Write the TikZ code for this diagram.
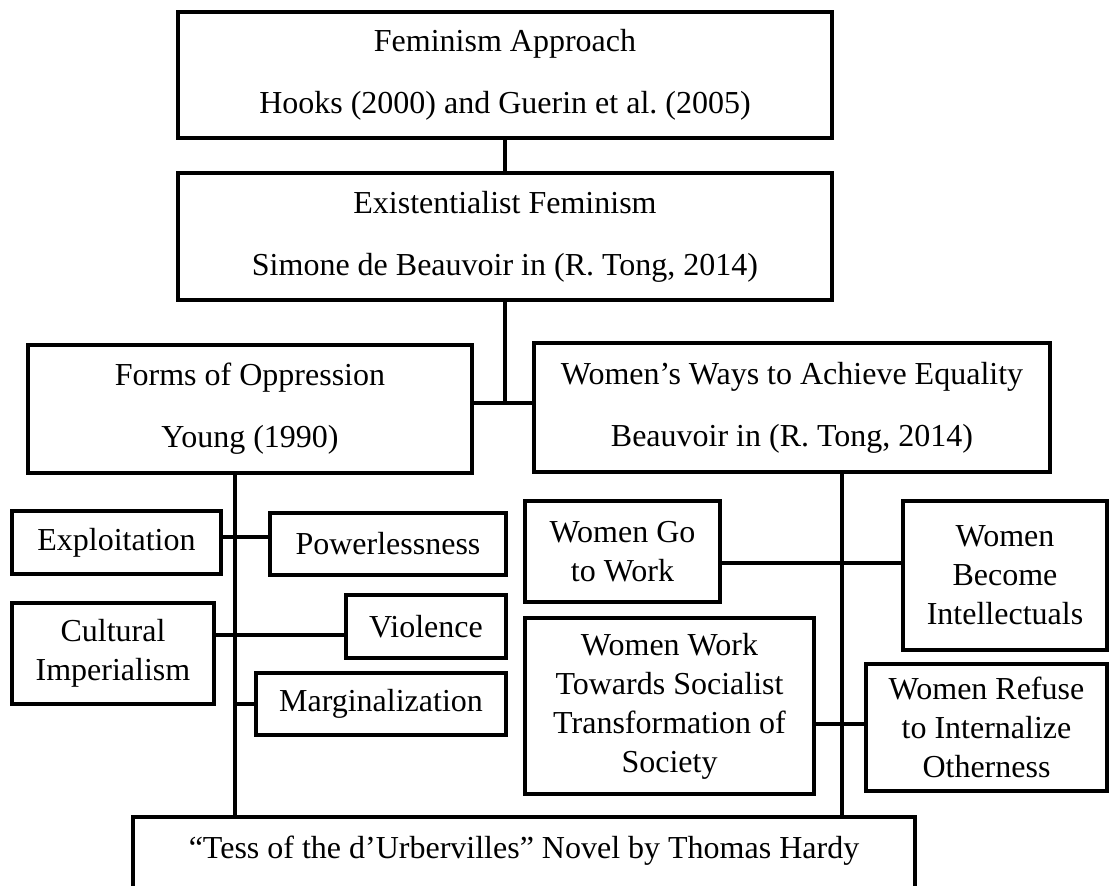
\documentclass[tikz,border=0pt]{standalone}
\usepackage{fontspec}
\setmainfont{Liberation Serif}
\tikzset{
    BOX/.style={draw=black, shape=rectangle, line width=2pt,
        inner sep=0mm, outer sep=0mm, align=center},
    BIG_BOX/.style={BOX, font={\fontsize{16}{31}\selectfont}},
    SMALL_BOX/.style={BOX, font={\fontsize{16}{19.5}\selectfont}},
    EDGE/.style={draw=black, line width=2pt}
}
\pgfdeclarelayer{edgelayer}
\pgfdeclarelayer{nodelayer}
\pgfsetlayers{edgelayer,nodelayer,main}
\begin{document}
\begin{tikzpicture}[x=0.5pt, y=-0.5pt]
    \useasboundingbox (0,0) rectangle (1109,886);
    \begin{pgfonlayer}{nodelayer}
        \node [BIG_BOX, minimum width=327pt, minimum height=63pt] (approach) at (505, 75) {Feminism Approach\\Hooks (2000) and Guerin et al.\ (2005)};
        \node [BIG_BOX, minimum width=327pt, minimum height=63.5pt] (exist) at (505, 236.5) {Existentialist Feminism\\Simone de Beauvoir in (R. Tong, 2014)};
        \node [BIG_BOX, minimum width=222pt, minimum height=64pt] (forms) at (250, 409) {Forms of Oppression\\Young (1990)};
        \node [BIG_BOX, minimum width=258pt, minimum height=64.5pt] (ways) at (792, 407.5) {Women’s Ways to Achieve Equality\\Beauvoir in (R. Tong, 2014)};
        \node [SMALL_BOX, minimum width=104.5pt, minimum height=31.5pt] (exploit) at (116.5, 542.5) {Exploitation};
        \node [SMALL_BOX, minimum width=118pt, minimum height=31pt] (power) at (388, 544) {Powerlessness};
        \node [SMALL_BOX, minimum width=101pt, minimum height=50.5pt] (cultural) at (113, 653.5) {Cultural\\Imperialism};
        \node [SMALL_BOX, minimum width=80pt, minimum height=31.5pt] (violence) at (426, 626.5) {Violence};
        \node [SMALL_BOX, minimum width=125pt, minimum height=31pt] (margin) at (381, 704) {Marginalization};
        \node [SMALL_BOX, minimum width=97.5pt, minimum height=50.5pt] (gowork) at (622.5, 551.5) {Women Go\\to Work};
        \node [SMALL_BOX, minimum width=102pt, minimum height=74.5pt] (intellect) at (1005, 575.5) {Women\\Become\\Intellectuals};
        \node [SMALL_BOX, minimum width=144.5pt, minimum height=88pt] (socialist) at (669.5, 706) {Women Work\\Towards Socialist\\Transformation of\\Society};
        \node [SMALL_BOX, minimum width=120.5pt, minimum height=63.5pt] (refuse) at (986.5, 727.5) {Women Refuse\\to Internalize\\Otherness};
        \node [BIG_BOX, anchor=north, minimum width=391pt, text height=21pt, text depth=35pt] (tess) at (524, 817) {“Tess of the d’Urbervilles” Novel by Thomas Hardy};
        \coordinate (j1) at (505, 403);
        \coordinate (lt) at (235, 473);
        \coordinate (r1) at (235, 537);
        \coordinate (r2) at (235, 635);
        \coordinate (r3) at (235, 704);
        \coordinate (rt) at (842, 472);
        \coordinate (s1) at (842, 563);
        \coordinate (s2) at (842, 724);
    \end{pgfonlayer}
    \begin{pgfonlayer}{edgelayer}
        \draw[EDGE] (approach) to (exist);
        \draw[EDGE] (exist.south) to (j1);
        \draw[EDGE] (forms.east |- j1) to (ways.west |- j1);
        \draw[EDGE] (lt) to (lt |- tess.north);
        \draw[EDGE] (exploit.east |- r1) to (power.west |- r1);
        \draw[EDGE] (cultural.east |- r2) to (violence.west |- r2);
        \draw[EDGE] (r3) to (margin.west |- r3);
        \draw[EDGE] (rt) to (rt |- tess.north);
        \draw[EDGE] (gowork.east |- s1) to (intellect.west |- s1);
        \draw[EDGE] (socialist.east |- s2) to (refuse.west |- s2);
    \end{pgfonlayer}
\end{tikzpicture}
\end{document}
